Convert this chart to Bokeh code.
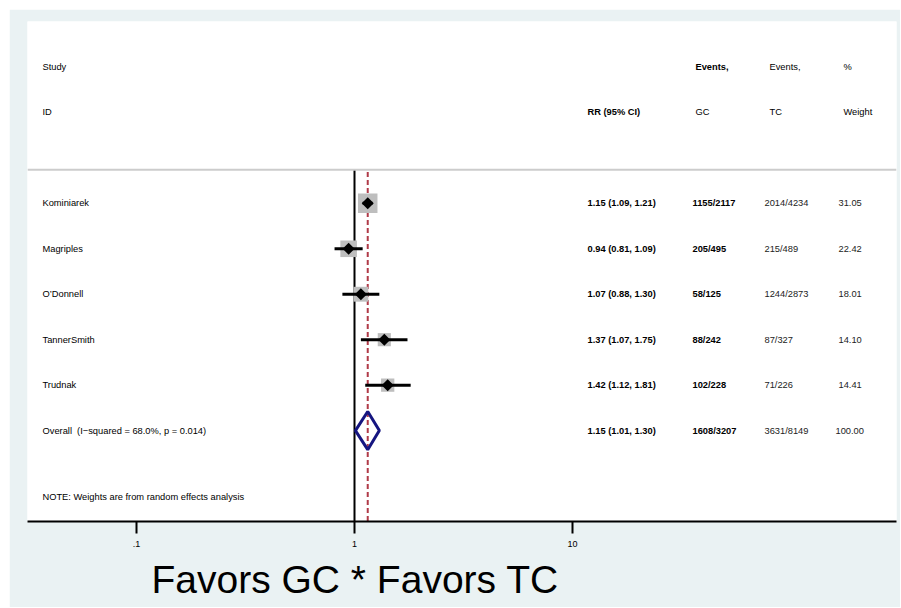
import numpy as np
from bokeh.plotting import figure
from bokeh.layouts import column, row
from bokeh.models import Range1d, FixedTicker, Title, Span, LinearScale, Spacer
from bokeh.core.properties import value
from bokeh.embed import file_html
from bokeh.resources import INLINE

# ---------------- data ----------------
studies = ["Kominiarek", "Magriples", "O\u2019Donnell", "TannerSmith", "Trudnak"]
rr = [1.15, 0.94, 1.07, 1.37, 1.42]
rr_lo = [1.09, 0.81, 0.88, 1.07, 1.12]
rr_hi = [1.21, 1.09, 1.30, 1.75, 1.81]
gc_events = ["1155/2117", "205/495", "58/125", "88/242", "102/228"]
tc_events = ["2014/4234", "215/489", "1244/2873", "87/327", "71/226"]
weights = [31.05, 22.42, 18.01, 14.10, 14.41]

overall_label = "Overall\u00a0 (I\u2212squared = 68.0%, p = 0.014)"
overall_rr = 1.15
overall_lo = 1.01
overall_hi = 1.30
overall_gc = "1608/3207"
overall_tc = "3631/8149"
overall_weight = 100.00

x_ticks = [0.1, 1, 10]
x_tick_labels = [".1", "1", "10"]

note_text = "NOTE: Weights are from random effects analysis"
bottom_text = "Favors GC * Favors TC"

# ---------------- layout ----------------
FONT_NAME = "Liberation Sans"
FONT = value(FONT_NAME)
FS = "9.3px"
BG = "#EAF2F3"
FRAME_W = 869
X_ONE_PX = 327      # pixel of RR = 1 inside frame
DECADE_PX = 218     # pixels per decade

rows = [4, 5, 6, 7, 8]
overall_row = 9
sep_row = 3.26

p = figure(width=891, height=598, x_axis_type="log",
           x_range=Range1d(10 ** (-X_ONE_PX / DECADE_PX), 10 ** ((FRAME_W - X_ONE_PX) / DECADE_PX)),
           y_range=Range1d(11.0, 0),
           y_axis_location=None,
           output_backend="svg", toolbar_location=None,
           min_border_left=18, min_border_right=4, min_border_top=12, min_border_bottom=86,
           background_fill_color="white", border_fill_color=BG, outline_line_color=None)
p.extra_x_ranges = {"px": Range1d(0, FRAME_W)}
p.extra_x_scales = {"px": LinearScale()}
p.xgrid.visible = False
p.ygrid.visible = False

ax = p.xaxis[0]
ax.ticker = FixedTicker(ticks=x_ticks, minor_ticks=[])
ax.major_label_overrides = dict(zip(x_ticks, x_tick_labels))
ax.axis_line_width = 2
ax.axis_line_color = "black"
ax.major_tick_line_width = 2
ax.major_tick_line_color = "black"
ax.major_tick_out = 12
ax.major_tick_in = 0
ax.minor_tick_out = 0
ax.minor_tick_in = 0
ax.major_label_text_font = FONT_NAME
ax.major_label_text_font_size = "9px"
ax.major_label_text_color = "black"
ax.major_label_standoff = 7

# separator line
p.add_layout(Span(location=sep_row, dimension="width", line_color="#CCCCCC", line_width=2))

# null line and overall dashed line
p.segment(x0=[1], y0=[sep_row], x1=[1], y1=[11.0], line_color="black", line_width=2)
p.segment(x0=[overall_rr], y0=[sep_row + 0.05], x1=[overall_rr], y1=[11.0],
          line_color="#B03A48", line_width=2, line_dash="5 3")

# weight boxes
box_sizes = [3.5 * np.sqrt(w) for w in weights]
p.scatter(x=rr, y=rows, marker="square", size=box_sizes, fill_color="#BEBEBE", line_color=None)
# CIs
p.segment(x0=rr_lo, y0=rows, x1=rr_hi, y1=rows, line_color="black", line_width=3)
# point estimates
p.scatter(x=rr, y=rows, marker="square", angle=np.pi / 4, size=8.5, fill_color="black", line_color=None)

# overall diamond
dh = 0.42
p.patch(x=[overall_lo, overall_rr, overall_hi, overall_rr],
        y=[overall_row, overall_row - dh, overall_row, overall_row + dh],
        fill_color=None, line_color="#151580", line_width=3)

# ---------------- texts ----------------
def txt(x, y, t, bold=False, color="black"):
    p.text(x=x, y=y, text=t, x_range_name="px", text_font=FONT, text_font_size=FS,
           text_font_style="bold" if bold else "normal", text_color=color,
           text_baseline="middle", text_align="left")

# headers
txt([15], [1], ["Study"])
txt([15], [2], ["ID"])
txt([560], [2], ["RR (95% CI)"], bold=True)
txt([668], [1], ["Events,"], bold=True)
txt([668], [2], ["GC"])
txt([742], [1], ["Events,"])
txt([742], [2], ["TC"])
txt([816], [1], ["%"])
txt([816], [2], ["Weight"])

rr_text = [f"{a:.2f} ({b:.2f}, {c:.2f})" for a, b, c in zip(rr, rr_lo, rr_hi)]
w_text = [f"{w:.2f}" for w in weights]
n = len(studies)
txt([15] * n, rows, studies)
txt([560] * n, rows, rr_text, bold=True)
txt([665] * n, rows, gc_events, bold=True)
txt([737] * n, rows, tc_events, color="#222222")
txt([811] * n, rows, w_text, color="#222222")

txt([15], [overall_row], [overall_label])
txt([560], [overall_row], [f"{overall_rr:.2f} ({overall_lo:.2f}, {overall_hi:.2f})"], bold=True)
txt([665], [overall_row], [overall_gc], bold=True)
txt([737], [overall_row], [overall_tc], color="#222222")
txt([808], [overall_row], [f"{overall_weight:.2f}"], color="#222222")

txt([15], [10.46], [note_text])

title = Title(text=bottom_text, align="left", offset=124, standoff=12,
              text_font=FONT_NAME, text_font_size="39px", text_font_style="normal", text_color="black")
p.add_layout(title, "below")

page = column(Spacer(height=9), row(Spacer(width=9), p))

open("out.html", "w").write(file_html(page, INLINE))
